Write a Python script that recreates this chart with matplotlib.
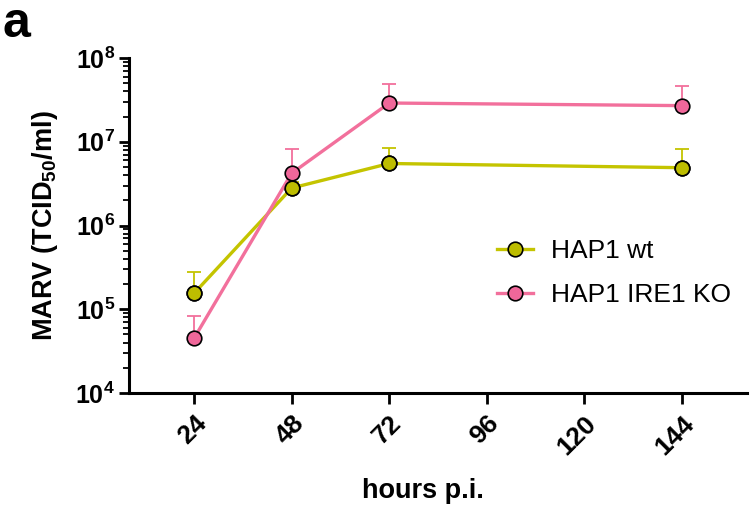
import numpy as np
import matplotlib
matplotlib.use("Agg")
import matplotlib.pyplot as plt
from matplotlib.ticker import LogLocator, FixedLocator, FuncFormatter

plt.rcParams["font.family"] = ["Liberation Sans", "DejaVu Sans"]
plt.rcParams["mathtext.fontset"] = "custom"
plt.rcParams["mathtext.rm"] = "Liberation Sans:bold"
plt.rcParams["mathtext.bf"] = "Liberation Sans:bold"
plt.rcParams["mathtext.it"] = "Liberation Sans:bold"

# ── Data ─────────────────────────────────────────────────────────────────────
hours = [24, 48, 72, 144]
wt_mean = [1.55e5, 2.8e6, 5.5e6, 4.9e6]
wt_sd = [1.25e5, 0.5e6, 3.0e6, 3.4e6]
ko_mean = [4.5e4, 4.2e6, 2.9e7, 2.7e7]
ko_sd = [3.8e4, 4.1e6, 2.0e7, 1.9e7]
xticks = [24, 48, 72, 96, 120, 144]

wt_col = "#c4c400"
wt_fill = "#bdbd00"
ko_col = "#f2709c"
ko_fill = "#f0679a"

# ── Plot ─────────────────────────────────────────────────────────────────────
fig = plt.figure(figsize=(7.5, 5.08), dpi=100)
ax = fig.add_axes([129 / 750, 1 - 393 / 508, 618 / 750, 335 / 508])

# error bars (upper only)
ax.errorbar(hours, wt_mean, yerr=[np.zeros(len(wt_sd)), wt_sd], fmt="none",
            ecolor=wt_col, elinewidth=1.3, capsize=5, capthick=1.3, zorder=1)
ax.errorbar(hours, ko_mean, yerr=[np.zeros(len(ko_sd)), ko_sd], fmt="none",
            ecolor=ko_col, elinewidth=1.3, capsize=5, capthick=1.3, zorder=1)

ax.plot(hours, wt_mean, "-o", color=wt_col, lw=2.4, ms=10.5, mfc=wt_fill,
        mec="black", mew=1.2, label="HAP1 wt", zorder=3)
ax.plot(hours, ko_mean, "-o", color=ko_col, lw=2.4, ms=10.5, mfc=ko_fill,
        mec="black", mew=1.2, label="HAP1 IRE1 KO", zorder=4)
# wt markers drawn on top of KO markers
ax.plot(hours, wt_mean, "o", ms=10.5, mfc=wt_fill, mec="black", mew=1.2, zorder=5)

ax.set_yscale("log")
ax.set_ylim(1e4, 1e8)
ax.set_xlim(8, 160)

ax.yaxis.set_major_locator(FixedLocator([1e4, 1e5, 1e6, 1e7, 1e8]))
ax.yaxis.set_minor_locator(LogLocator(base=10, subs=np.arange(2, 10), numticks=20))
ax.yaxis.set_major_formatter(FuncFormatter(lambda v, p: r"$10^{%d}$" % round(np.log10(v))))
ax.set_xticks(xticks)
ax.set_xticklabels([str(t) for t in xticks], rotation=45, ha="right",
                   rotation_mode="anchor", fontsize=19, fontweight="bold")

ax.tick_params(axis="y", which="major", length=7, width=2, pad=3, labelsize=18)
ax.tick_params(axis="y", which="minor", length=4, width=1.3)
ax.tick_params(axis="x", which="major", length=8, width=2, pad=5)

for s in ["top", "right"]:
    ax.spines[s].set_visible(False)
for s in ["left", "bottom"]:
    ax.spines[s].set_linewidth(2.2)

ax.set_ylabel(r"MARV (TCID$_{50}$/ml)", fontsize=19.5, fontweight="bold")
ax.yaxis.set_label_coords(-0.112, 0.5)
ax.set_xlabel("hours p.i.", fontsize=19.5, fontweight="bold")
ax.xaxis.set_label_coords(0.476, -0.255)

ax.legend(loc="upper left", bbox_to_anchor=(497 / 750, 1 - 239 / 508),
          bbox_transform=fig.transFigure, frameon=False, fontsize=19,
          handlelength=1.35, handletextpad=0.7, labelspacing=0.75,
          borderpad=0, borderaxespad=0)

# panel letter
fig.text(0.003, 0.998, "a", fontsize=36, fontweight="bold", va="top")

fig.savefig("out.png", dpi=100)
